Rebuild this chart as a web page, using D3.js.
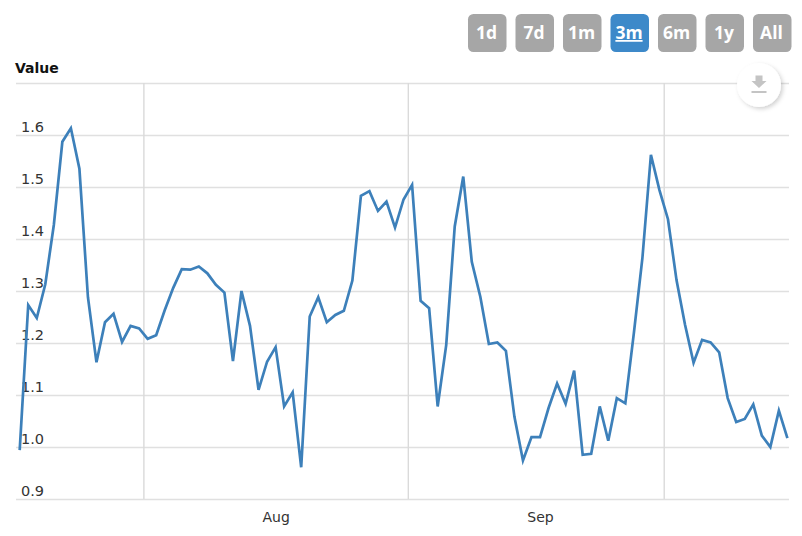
<!DOCTYPE html>
<html>
<head>
<meta charset="utf-8">
<script src="https://d3js.org/d3.v7.min.js"></script>
<style>
html,body{margin:0;padding:0;background:#fff;overflow:hidden}
svg{display:block}
text{font-family:"DejaVu Sans",sans-serif}
</style>
</head>
<body>
<svg id="chart" width="802" height="536"></svg>
<script>
const startDate = "2019-07-17T12:00:00Z";
const values = [0.994,1.273,1.248,1.313,1.427,1.587,1.613,1.535,1.288,1.163,1.240,1.256,1.202,1.233,1.228,1.208,1.215,1.263,1.306,1.342,1.341,1.347,1.334,1.312,1.297,1.165,1.300,1.233,1.110,1.164,1.192,1.078,1.105,0.961,1.251,1.288,1.240,1.254,1.262,1.320,1.483,1.492,1.454,1.472,1.422,1.476,1.504,1.281,1.267,1.078,1.196,1.424,1.520,1.356,1.289,1.198,1.201,1.185,1.058,0.974,1.019,1.019,1.075,1.122,1.083,1.147,0.985,0.987,1.078,1.012,1.094,1.084,1.219,1.363,1.562,1.494,1.438,1.321,1.235,1.162,1.206,1.201,1.182,1.094,1.048,1.054,1.082,1.022,1.000,1.070,1.017];
const yTicks = [0.9,1.0,1.1,1.2,1.3,1.4,1.5,1.6,1.7];
const yLabels = ["0.9","1.0","1.1","1.2","1.3","1.4","1.5","1.6",""];
const monthGrid = ["2019-08-01T00:00:00Z","2019-09-01T00:00:00Z","2019-10-01T00:00:00Z"];
const monthLabelDates = ["2019-08-16T12:00:00Z","2019-09-16T12:00:00Z"];
const monthLabels = ["Aug","Sep"];
const ranges = ["1d","7d","1m","3m","6m","1y","All"];
const activeRange = "3m";

const svg = d3.select("#chart");
const dayMs = 864e5;
const t0 = new Date(startDate);
const dates = values.map((_, i) => new Date(+t0 + i * dayMs));
const x = d3.scaleUtc().domain([dates[0], dates[dates.length - 1]]).range([19.7, 787.4]);
const y = d3.scaleLinear().domain([0.9, 1.7]).range([499, 83]);
const gridL = 16, gridR = 789;

const defs = svg.append("defs");
const f = defs.append("filter").attr("id","sh").attr("x","-30%").attr("y","-30%").attr("width","170%").attr("height","170%");
f.append("feDropShadow").attr("dx",2).attr("dy",2).attr("stdDeviation",2).attr("flood-color","#000").attr("flood-opacity",0.18);

// Horizontal grid + labels
const yAxis = d3.axisLeft(y).tickValues(yTicks).tickSize(0).tickPadding(0)
  .tickFormat((d, i) => yLabels[i]);
const yG = svg.append("g").attr("transform", `translate(${gridL},0)`).call(yAxis);
yG.select(".domain").remove();
yG.selectAll(".tick line").attr("x1", 0).attr("x2", gridR - gridL).attr("stroke", "#e0e0e0").attr("stroke-width", 1.4);
yG.selectAll(".tick text").attr("x", 28).attr("y", -3.5).attr("dy", 0)
  .attr("text-anchor", "end").attr("font-size", 14.5).attr("fill", "#333")
  .attr("font-family", '"DejaVu Sans",sans-serif');

// Vertical grid
const xGrid = d3.axisBottom(x).tickValues(monthGrid.map(d => new Date(d))).tickSize(0).tickFormat("");
const xG = svg.append("g").attr("transform", "translate(0,83)").call(xGrid);
xG.select(".domain").remove();
xG.selectAll(".tick line").attr("y1", 0).attr("y2", 416).attr("stroke", "#dadada").attr("stroke-width", 1.4);

// Month labels
const xLab = d3.axisBottom(x).tickValues(monthLabelDates.map(d => new Date(d))).tickSize(0).tickPadding(0)
  .tickFormat((d, i) => monthLabels[i]);
const xL = svg.append("g").attr("transform", "translate(0,499)").call(xLab);
xL.select(".domain").remove();
xL.selectAll(".tick text").attr("y", 23).attr("dy", 0).attr("font-size", 14).attr("fill", "#333")
  .attr("font-family", '"DejaVu Sans",sans-serif');

// Line
const line = d3.line().x((d, i) => x(dates[i])).y(d => y(d));
svg.append("path").datum(values).attr("d", line).attr("fill", "none")
  .attr("stroke", "#3d80ba").attr("stroke-width", 2.7).attr("stroke-linejoin", "miter");

// Title
svg.append("text").attr("x", 15).attr("y", 73).attr("font-size", 14).attr("font-weight", "bold")
  .attr("fill", "#111").text("Value");

// Range buttons
const bx = d3.scalePoint().domain(ranges).range([468, 753]);
const btn = svg.append("g").selectAll("g").data(ranges).join("g")
  .attr("transform", d => `translate(${bx(d)},14)`);
btn.append("rect").attr("width", 38.5).attr("height", 38).attr("rx", 5.5)
  .attr("fill", d => d === activeRange ? "#3d89c9" : "#a6a6a6");
btn.append("text").attr("x", 18.5).attr("y", 25).attr("text-anchor", "middle")
  .style("font-family", '"Open Sans",sans-serif')
  .attr("font-weight", 700).attr("font-size", 17.5).attr("fill", "#fff")
  .attr("text-decoration", d => d === activeRange ? "underline" : "none").text(d => d);

// Download control
const dl = svg.append("g").attr("transform", "translate(759,85)");
dl.append("circle").attr("r", 22).attr("fill", "#fff").attr("filter", "url(#sh)");
dl.append("path").attr("d", "M-3.5,-9.5H3.5V-4H7.5L0,3L-7.5,-4H-3.5Z").attr("fill", "#c4c4c4");
dl.append("rect").attr("x", -7.5).attr("y", 6).attr("width", 15).attr("height", 2).attr("fill", "#c4c4c4");
</script>
</body>
</html>
